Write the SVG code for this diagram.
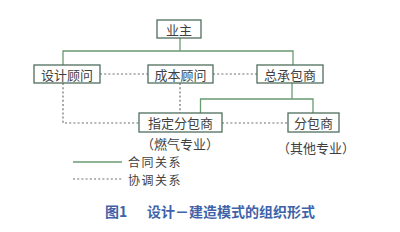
<svg xmlns="http://www.w3.org/2000/svg" width="400" height="232" viewBox="0 0 400 232">
<style>
.box{fill:#fff;stroke:#4f6e5c;stroke-width:1.3}
.t{font-family:"Noto Sans CJK SC",sans-serif;font-size:13px;fill:#3f3f3f;text-anchor:middle;dominant-baseline:central}
.lg{font-family:"Noto Sans CJK SC",sans-serif;font-size:12px;fill:#3f3f3f;letter-spacing:1.5px;dominant-baseline:central}
.s{stroke:#6a9a72;stroke-width:1.3;fill:none}
.d{stroke:#6e6e6e;stroke-width:1.2;stroke-dasharray:2 2.2;fill:none}
.cap{font-family:"Noto Sans CJK SC",sans-serif;font-size:14px;fill:#3f62a8;font-weight:bold;dominant-baseline:central}
</style>
<rect width="400" height="232" fill="#fff"/>
<g id="connectors">
<path class="s" d="M180 38V51M63 65V51H293V65M292 83V99M200.5 113V99H313V113"/>
<path class="d" d="M100 74H148M213 74H257M63 83V123H139M180 83V113M222 123H288"/>
</g>
<g id="owner"><rect class="box" x="157" y="20" width="44" height="18"/><text class="t" x="179" y="29">业主</text></g>
<g id="design"><rect class="box" x="34" y="65" width="66" height="18"/><text class="t" x="67" y="74">设计顾问</text></g>
<g id="cost"><rect class="box" x="148" y="65" width="65" height="18"/><text class="t" x="180.5" y="74">成本顾问</text></g>
<g id="gc"><rect class="box" x="257" y="65" width="66" height="18"/><text class="t" x="290" y="74">总承包商</text></g>
<g id="nsc"><rect class="box" x="139" y="113" width="83" height="19"/><text class="t" x="180.5" y="122.5">指定分包商</text></g>
<g id="sc"><rect class="box" x="288" y="113" width="51" height="19"/><text class="t" x="313.5" y="122.5">分包商</text></g>
<text class="t" x="180" y="143">（燃气专业）</text>
<text class="t" x="316" y="147">（其他专业）</text>
<g id="legend">
<line class="s" x1="73" y1="162" x2="122" y2="162"/>
<text class="lg" x="128" y="161.5">合同关系</text>
<line class="d" x1="73" y1="179" x2="122" y2="179"/>
<text class="lg" x="128" y="179.5">协调关系</text>
</g>
<text class="cap" x="105" y="211">图1</text>
<text class="cap" x="147" y="211">设计－建造模式的组织形式</text>
</svg>
